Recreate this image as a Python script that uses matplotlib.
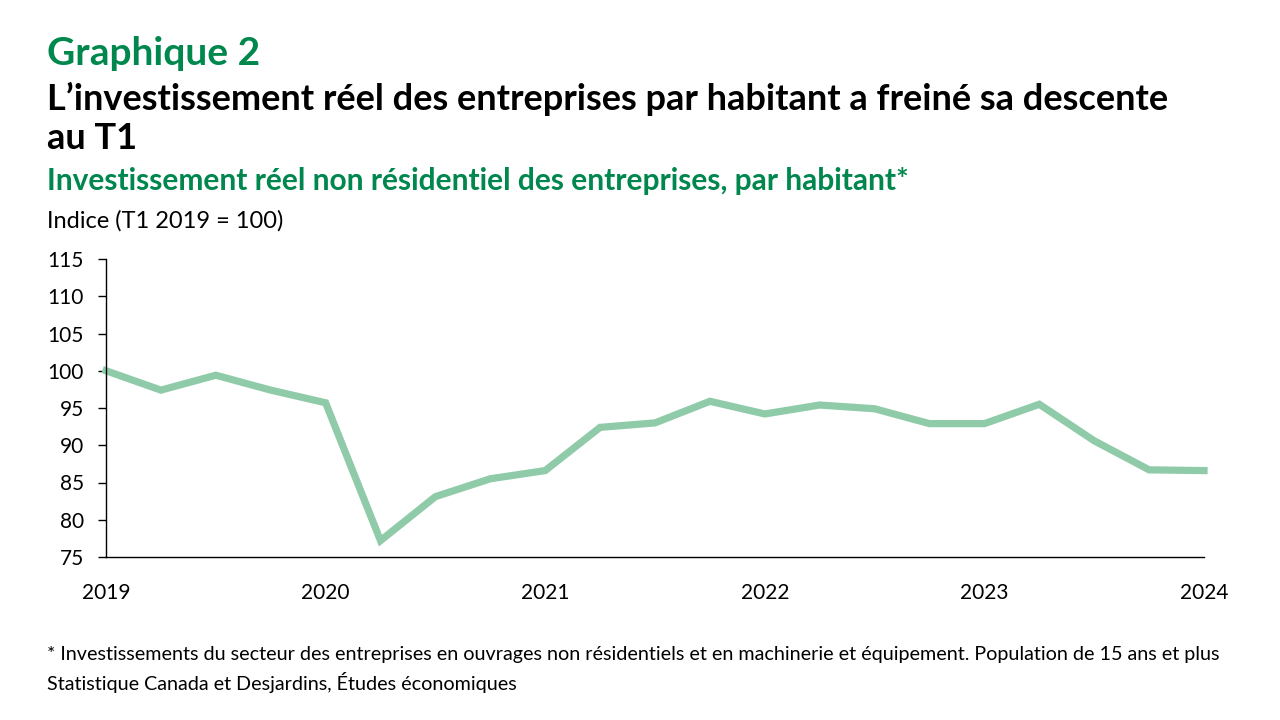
import matplotlib.pyplot as plt
import matplotlib.ticker as mticker

plt.rcParams['font.family'] = ['Lato', 'DejaVu Sans']

# quarterly index, T1 2019 = 100
quarters = [2019.0, 2019.25, 2019.5, 2019.75,
            2020.0, 2020.25, 2020.5, 2020.75,
            2021.0, 2021.25, 2021.5, 2021.75,
            2022.0, 2022.25, 2022.5, 2022.75,
            2023.0, 2023.25, 2023.5, 2023.75,
            2024.0]
index_values = [100.0, 97.4, 99.4, 97.4,
                95.7, 77.2, 83.1, 85.5,
                86.6, 92.4, 93.0, 95.9,
                94.2, 95.4, 94.9, 92.9,
                92.9, 95.5, 90.6, 86.7,
                86.6]
year_ticks = [2019, 2020, 2021, 2022, 2023, 2024]
y_ticks = [75, 80, 85, 90, 95, 100, 105, 110, 115]

GREEN = "#00874E"
LINE = "#8FCBA8"

W, H = 1280, 720
fig = plt.figure(figsize=(12.8, 7.2), dpi=100)

def px(x, y):
    return x / W, 1 - y / H

ax = fig.add_axes([106 / W, 1 - 557 / H, (1204 - 106) / W, (557 - 259) / H])
ax.plot(quarters, index_values, color=LINE, lw=5.2, solid_joinstyle='miter', clip_on=False)

ax.set_xlim(2019, 2024)
ax.set_ylim(75, 115)
ax.set_yticks(y_ticks)
ax.set_xticks(year_ticks)
ax.xaxis.set_major_formatter(mticker.FormatStrFormatter('%d'))
ax.tick_params(axis='y', length=6, width=1, labelsize=15, pad=10, colors='black')
ax.tick_params(axis='x', length=0, labelsize=15, pad=19)
for s in ['top', 'right']:
    ax.spines[s].set_visible(False)
ax.spines['left'].set_linewidth(1)
ax.spines['bottom'].set_linewidth(1)

fig.text(*px(47, 65), "Graphique 2", color=GREEN, fontsize=28, fontweight='bold', va='baseline')
fig.text(*px(47, 110), "L\u2019investissement réel des entreprises par habitant a freiné sa descente",
         fontsize=26, fontweight='bold', va='baseline')
fig.text(*px(47, 149), "au T1", fontsize=26, fontweight='bold', va='baseline')
fig.text(*px(47, 190), "Investissement réel non résidentiel des entreprises, par habitant*",
         color=GREEN, fontsize=21.5, fontweight='bold', va='baseline')
fig.text(*px(47, 228), "Indice (T1 2019 = 100)", fontsize=17, va='baseline')

fig.text(*px(47, 660), "* Investissements du secteur des entreprises en ouvrages non résidentiels et en machinerie et équipement. Population de 15 ans et plus",
         fontsize=14.2, va='baseline')
fig.text(*px(47, 690), "Statistique Canada et Desjardins, Études économiques", fontsize=14.2, va='baseline')

fig.savefig("out.png", dpi=100)
